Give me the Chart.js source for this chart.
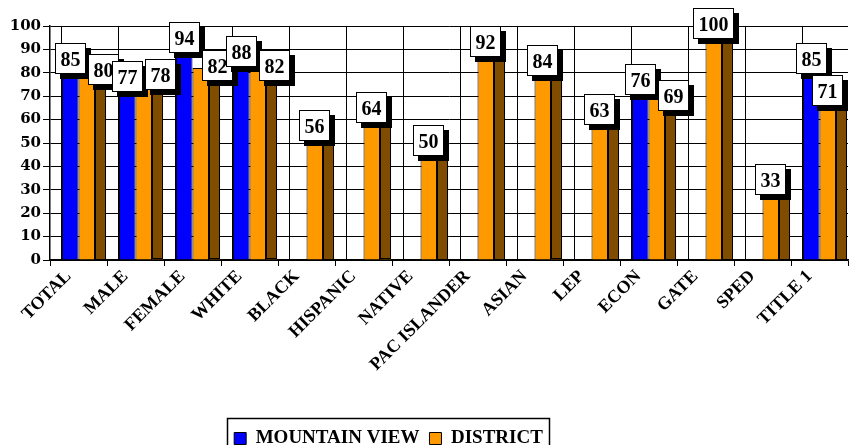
<!DOCTYPE html>
<html>
<head>
<meta charset="utf-8">
<script src="https://cdn.jsdelivr.net/npm/chart.js@4.4.0/dist/chart.umd.min.js"></script>
<style>
  html, body { margin: 0; padding: 0; background: #fff; }
</style>
</head>
<body>
<canvas id="chart" width="851" height="445"></canvas>
<script>
// data
const categories = ['TOTAL', 'MALE', 'FEMALE', 'WHITE', 'BLACK', 'HISPANIC', 'NATIVE',
  'PAC ISLANDER', 'ASIAN', 'LEP', 'ECON', 'GATE', 'SPED', 'TITLE 1'];
const mountainView = [85, 77, 94, 88, null, null, null, null, null, null, 76, null, null, 85];
const district = [80, 78, 82, 82, 56, 64, 50, 92, 84, 63, 69, 100, 33, 71];
const yMin = 0;
const yMax = 100;
const yStep = 10;

const BLUE = '#0000ff';
const ORANGE = '#ff9900';
const BROWN = '#7f4c00';
const DEPTH = 11;

// back wall lines (3d look)
const backWall = {
  id: 'backWall',
  beforeDatasetsDraw(chart) {
    const ctx = chart.ctx;
    const x = chart.scales.x;
    const area = chart.chartArea;
    const catW = x.width / categories.length;
    ctx.save();
    ctx.strokeStyle = '#000';
    ctx.lineWidth = 1;
    for (let i = 0; i <= categories.length; i++) {
      const px = Math.round(x.left + i * catW + DEPTH) + 0.5;
      ctx.beginPath();
      ctx.moveTo(px, area.top);
      ctx.lineTo(px, area.bottom);
      ctx.stroke();
    }
    ctx.restore();
  }
};

// side faces + value boxes
const barExtras = {
  id: 'barExtras',
  afterDatasetsDraw(chart) {
    const ctx = chart.ctx;
    ctx.save();
    // side of district bars
    chart.getDatasetMeta(1).data.forEach((el, i) => {
      if (district[i] == null) return;
      const left = el.x + el.width / 2;
      ctx.fillStyle = BROWN;
      ctx.fillRect(left, el.y, DEPTH, el.base - el.y);
      ctx.strokeStyle = '#000';
      ctx.lineWidth = 1;
      ctx.strokeRect(Math.round(left) + 0.5, Math.round(el.y) + 0.5, DEPTH - 1, Math.round(el.base - el.y) - 1);
    });

    // value labels
    ctx.font = 'bold 20px "Liberation Serif"';
    categories.forEach((c, i) => {
      const boxes = [];
      [mountainView, district].forEach((series, d) => {
        const v = series[i];
        if (v == null) return;
        const el = chart.getDatasetMeta(d).data[i];
        const txt = String(v);
        const w = Math.round(ctx.measureText(txt).width) + 11;
        const h = 31;
        let cx = el.x;
        const cy = el.y - 3;
        if (d === 1 && boxes.length) {
          const b = boxes[0];
          if (cy - h / 2 < b.y + b.h && cx - w / 2 < b.x + b.w) {
            cx = b.x + b.w + 2 + w / 2;
          }
        }
        boxes.push({ x: Math.round(cx - w / 2), y: Math.round(cy - h / 2), w, h, txt });
      });
      boxes.forEach(b => {
        ctx.fillStyle = '#000';
        ctx.fillRect(b.x + 5, b.y + 5, b.w, b.h);
        ctx.fillStyle = '#fff';
        ctx.fillRect(b.x, b.y, b.w, b.h);
        ctx.strokeStyle = '#000';
        ctx.lineWidth = 1;
        ctx.strokeRect(b.x + 0.5, b.y + 0.5, b.w - 1, b.h - 1);
        ctx.fillStyle = '#000';
        ctx.textAlign = 'center';
        ctx.textBaseline = 'alphabetic';
        ctx.fillText(b.txt, b.x + b.w / 2, b.y + b.h / 2 + 7);
      });
    });
    ctx.restore();
  }
};

// move legend left and put a frame round it
const legendFrame = {
  id: 'legendFrame',
  afterLayout(chart) {
    const lg = chart.legend;
    lg.left = 0;
    lg.right = 777;
    lg.width = 777;
  },
  afterDraw(chart) {
    const boxes = chart.legend.legendHitBoxes;
    if (!boxes || !boxes.length) return;
    const ctx = chart.ctx;
    let l = Infinity, r = -Infinity, t = Infinity;
    boxes.forEach(b => {
      l = Math.min(l, b.left);
      r = Math.max(r, b.left + b.width);
      t = Math.min(t, b.top);
    });
    ctx.save();
    ctx.strokeStyle = '#000';
    ctx.lineWidth = 1.5;
    ctx.strokeRect(Math.round(l - 7) + 0.5, Math.round(t - 11) + 0.5, Math.round(r - l + 13), 60);
    ctx.restore();
  }
};

const ctx = document.getElementById('chart').getContext('2d');
const chart = new Chart(ctx, {
  type: 'bar',
  data: {
    labels: categories,
    datasets: [{
      label: 'MOUNTAIN VIEW',
      data: mountainView,
      backgroundColor: BLUE,
      borderColor: '#000',
      borderWidth: 1
    }, {
      label: 'DISTRICT',
      data: district,
      backgroundColor: ORANGE,
      borderColor: '#000',
      borderWidth: 1
    }]
  },
  options: {
    responsive: false,
    animation: false,
    devicePixelRatio: 1,
    layout: { padding: { top: 26, right: 3, left: 0, bottom: -13 } },
    datasets: {
      bar: { categoryPercentage: 0.58, barPercentage: 1 }
    },
    plugins: {
      legend: {
        position: 'bottom',
        labels: {
          color: '#000',
          font: { family: 'Liberation Serif', size: 19, weight: 'bold' },
          boxWidth: 12,
          boxHeight: 12,
          padding: 10
        }
      },
      tooltip: { enabled: false }
    },
    scales: {
      y: {
        min: yMin,
        max: yMax,
        ticks: {
          stepSize: yStep,
          color: '#000',
          padding: 2,
          font: { family: 'DejaVu Serif', size: 15, weight: 'bold' }
        },
        grid: { color: '#000', lineWidth: 1, tickLength: 7 },
        border: { color: '#000', width: 1.5 },
        afterFit(s) { s.width = 50; }
      },
      x: {
        ticks: {
          color: '#000',
          autoSkip: false,
          maxRotation: 45,
          minRotation: 45,
          padding: 0,
          labelOffset: -10,
          font: { family: 'Liberation Serif', size: 18, weight: 'bold' }
        },
        grid: { color: '#000', drawOnChartArea: false, tickLength: 6 },
        border: { color: '#000', width: 1.5 },
        afterFit(s) { s.height = 159; }
      }
    }
  },
  plugins: [backWall, barExtras, legendFrame]
});
</script>
</body>
</html>
